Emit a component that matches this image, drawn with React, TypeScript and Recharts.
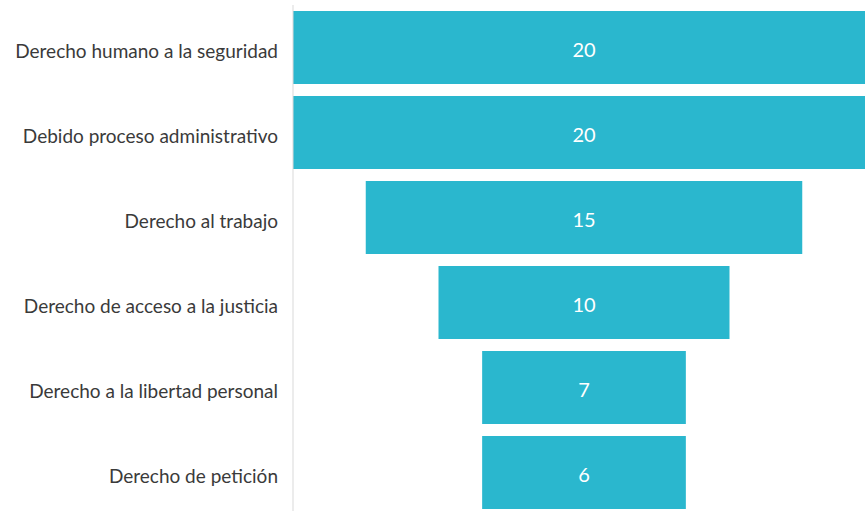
import { Bar, BarChart, LabelList, XAxis, YAxis } from 'recharts';

const categories = [
    'Derecho humano a la seguridad',
    'Debido proceso administrativo',
    'Derecho al trabajo',
    'Derecho de acceso a la justicia',
    'Derecho a la libertad personal',
    'Derecho de petición',
];
const counts = [20, 20, 15, 10, 7, 6];

// the funnel never draws a bar narrower than this
const minShown = 7;
const maxCount = 20;
const barColor = '#2AB7CE';

const data = categories.map((name, i) => {
    const shown = Math.max(counts[i], minShown);
    return { name, count: counts[i], shown, pad: (maxCount - shown) / 2 };
});

export default function App() {
    return (
        <div style={{ width: 865, height: 511, overflow: 'hidden', background: '#fff' }}>
            <style>{'body { margin: 0; }'}</style>
            <BarChart
                layout="vertical"
                width={876}
                height={520}
                data={data}
                margin={{ top: 5, right: 1, bottom: 5, left: 0 }}
            >
                <XAxis type="number" hide domain={[0, maxCount]} />
                <YAxis
                    type="category"
                    dataKey="name"
                    width={293}
                    tickLine={false}
                    tickSize={0}
                    tickMargin={15}
                    axisLine={{ stroke: '#d9d9d9' }}
                    tick={{ fontSize: 19, fill: '#3a3a3a', fontFamily: 'Lato, sans-serif', dy: 4 }}
                />
                <Bar dataKey="pad" stackId="f" fill="transparent" barSize={73} isAnimationActive={false} />
                <Bar dataKey="shown" stackId="f" fill={barColor} barSize={73} isAnimationActive={false}>
                    <LabelList
                        dataKey="count"
                        position="center"
                        fill="#ffffff"
                        dy={2}
                        style={{ fontSize: 20, fontFamily: 'Lato, sans-serif' }}
                    />
                </Bar>
            </BarChart>
        </div>
    );
}
